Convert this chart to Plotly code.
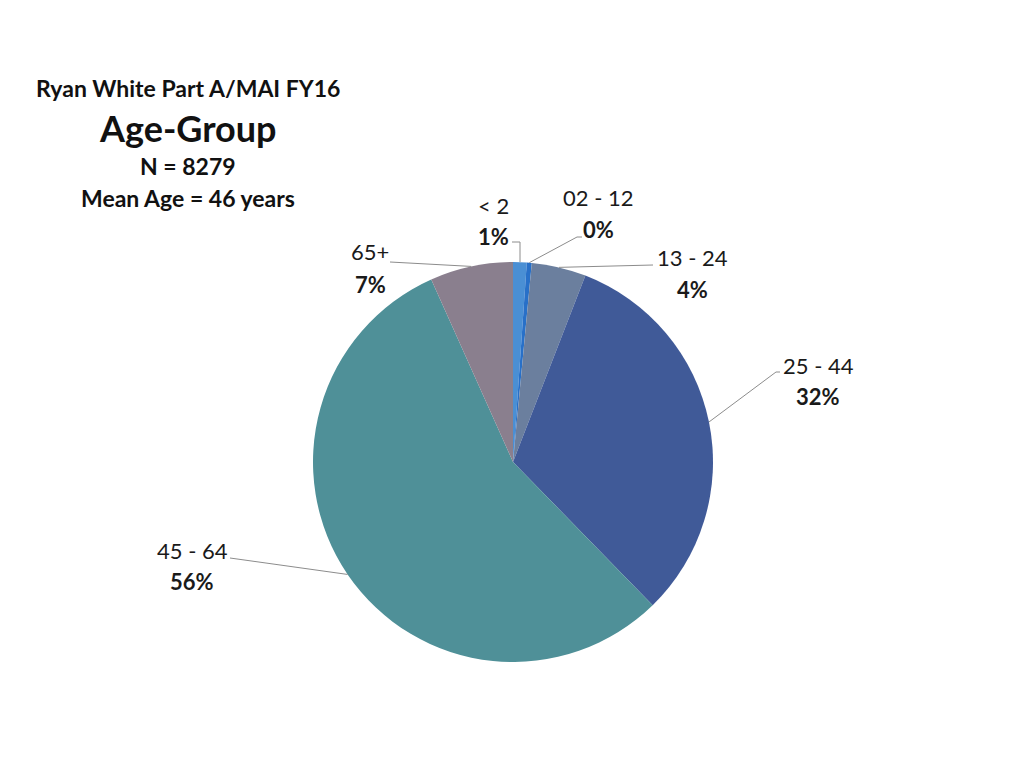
import math
import plotly.graph_objects as go

# Data
categories = ["< 2", "02 - 12", "13 - 24", "25 - 44", "45 - 64", "65+"]
counts = [91, 33, 364, 2633, 4603, 555]
colors = ["#4A8FD4", "#2870C8", "#6B7F9E", "#405A98", "#4F9098", "#8A7F8E"]

# label anchor positions (pixels): (x, y of name, y of percent)
label_pos = {
    "< 2": (493, 205, 236),
    "02 - 12": (598, 197, 229),
    "13 - 24": (692, 258, 289),
    "25 - 44": (818, 365, 396),
    "45 - 64": (192, 550, 581),
    "65+": (370, 251, 284),
}
elbows = {
    "< 2": [(520, 242), (512, 242)],
    "02 - 12": [(577, 237), (582, 237)],
    "13 - 24": [(653, 265)],
    "25 - 44": [(776, 372), (780, 372)],
    "45 - 64": [(230, 558)],
    "65+": [(390, 262)],
}

W, H = 1024, 768
OFF = 8  # page body margin
CX, CY, R = 513, 462, 200

def px(x):
    return (x - OFF) / W

def py(y):
    return 1 - (y - OFF) / H

total = sum(counts)
fig = go.Figure(go.Pie(
    labels=categories,
    values=counts,
    sort=False,
    direction="clockwise",
    rotation=0,
    marker=dict(colors=colors, line=dict(width=0)),
    textinfo="none",
    hoverinfo="label+percent",
    showlegend=False,
    domain=dict(x=[px(CX - R), px(CX + R)], y=[py(CY + R), py(CY - R)]),
))

FONT = "Lato, 'Open Sans', sans-serif"
annotations = []
shapes = []
cum = 0
for cat, v in zip(categories, counts):
    mid = (cum + v / 2) / total * 2 * math.pi
    cum += v
    pct = round(v / total * 100)
    sx = CX + R * math.sin(mid)
    sy = CY - R * math.cos(mid)
    pts = [(sx, sy)] + elbows[cat]
    if cat == "< 2":
        pts = [(520, sy)] + elbows[cat]
    path = "M " + " L ".join(f"{px(x)},{py(y)}" for x, y in pts)
    shapes.append(dict(type="path", path=path, xref="paper", yref="paper",
                       line=dict(color="#8C8C8C", width=1)))
    lx, ly1, ly2 = label_pos[cat]
    annotations.append(dict(
        x=px(lx), y=py(ly1), xref="paper", yref="paper", showarrow=False,
        xanchor="center", yanchor="middle", text=cat,
        font=dict(family=FONT, size=22, color="#1a1a1a"),
    ))
    annotations.append(dict(
        x=px(lx), y=py(ly2), xref="paper", yref="paper", showarrow=False,
        xanchor="center", yanchor="middle", text=f"<b>{pct}%</b>",
        font=dict(family=FONT, size=22, color="#1a1a1a"),
    ))

for txt, y, size in [
    ("<b>Ryan White Part A/MAI FY16</b>", 88, 23),
    ("<b>Age-Group</b>", 128, 36),
    ("<b>N = 8279</b>", 166, 23),
    ("<b>Mean Age = 46 years</b>", 198, 23),
]:
    annotations.append(dict(x=px(188), y=py(y), xref="paper", yref="paper",
                            showarrow=False, xanchor="center", yanchor="middle",
                            text=txt, font=dict(family=FONT, size=size, color="#111111")))

fig.update_layout(
    width=W, height=H,
    margin=dict(l=0, r=0, t=0, b=0),
    paper_bgcolor="white",
    plot_bgcolor="white",
    annotations=annotations,
    shapes=shapes,
)

fig.write_html("out.html")
